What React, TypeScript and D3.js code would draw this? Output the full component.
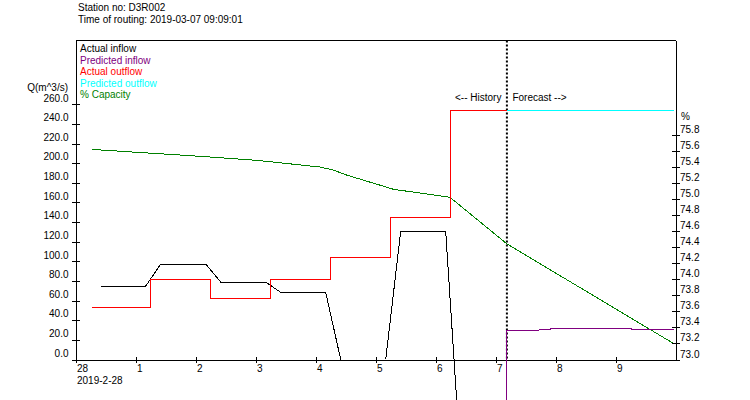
import React, { useEffect, useRef } from 'react';
import * as d3 from 'd3';

const stationNo = 'D3R002';
const routingTime = '2019-03-07 09:09:01';
const startDateLabel = '2019-2-28';

// time axis: days counted from 2019-02-28 00:00
const dayTicks = [0, 1, 2, 3, 4, 5, 6, 7, 8, 9];
const dayTickLabels = ['28', '1', '2', '3', '4', '5', '6', '7', '8', '9'];
const nowDay = 7.19;

const qTicks = [0, 20, 40, 60, 80, 100, 120, 140, 160, 180, 200, 220, 240, 260];
const pctTicks = [73.0, 73.2, 73.4, 73.6, 73.8, 74.0, 74.2, 74.4, 74.6, 74.8, 75.0, 75.2, 75.4, 75.6, 75.8];

// NaN = missing reading (gap in the line)
const inflowDays = [0.42, 1.17, 1.42, 2.17, 2.42, 3.17, 3.42, 4.17, 4.42, NaN, 5.17, 5.42, 6.17, 6.42];
const inflowQ = [74.8, 74.8, 97.2, 97.2, 78.9, 78.9, 68.4, 68.4, 0, NaN, 0, 130.6, 130.6, -105];

const outflowDays = [0.27, 1.25, 2.25, 3.25, 4.25, 5.25, 6.25, 7.19];
const outflowQ = [53, 81, 62, 81, 104, 145, 254, 254];

const predInflowDays = [7.19, 7.19, 7.72, 7.73, 7.91, 7.92, 9.27, 9.28, 9.98];
const predInflowQ = [-120, 29.5, 29.5, 30.2, 30.2, 31.2, 31.2, 30.2, 30.2];

const predOutflowDays = [7.19, 9.98];
const predOutflowQ = [254, 254];

const capacityDays = [0.28, 2.03, 3.03, 4.08, 4.3, 4.52, 5.07, 5.3, 6.24, 7.19, 9.95];
const capacityPct = [75.614, 75.531, 75.478, 75.395, 75.357, 75.295, 75.171, 75.118, 75.019, 74.439, 73.207];

const legendLabels = ['Actual inflow', 'Predicted inflow', 'Actual outflow', 'Predicted outflow', '% Capacity'];
const legendColors = ['#000000', '#800080', '#ff0000', '#00ffff', '#008000'];

const FONT = "'Liberation Sans Narrow', 'Liberation Sans', Arial, sans-serif";

const App: React.FC = () => {
  const svgRef = useRef<SVGSVGElement | null>(null);

  useEffect(() => {
    const w = 750;
    const h = 400;
    const left = 75.5;
    const right = 675.5;
    const top = 40.5;
    const bottom = 359.5;

    const svg = d3.select(svgRef.current)
      .attr('width', w)
      .attr('height', h)
      .style('font-family', FONT)
      .style('font-size', '10px');
    svg.selectAll('*').remove();

    const x = d3.scaleLinear().domain([0, 10]).range([left, right]);
    const yQ = d3.scaleLinear().domain([0, 325]).range([bottom, top]);
    const yP = d3.scaleLinear().domain([73, 76.97]).range([bottom, top]);

    // header
    svg.append('text').attr('x', 78).attr('y', 11).text(`Station no: ${stationNo}`);
    svg.append('text').attr('x', 78).attr('y', 23).text(`Time of routing: ${routingTime}`);

    // frame top
    svg.append('line')
      .attr('x1', left).attr('x2', right).attr('y1', top).attr('y2', top)
      .attr('stroke', '#000').attr('shape-rendering', 'crispEdges');

    // left axis
    const yAxisL = d3.axisLeft(yQ).tickValues(qTicks).tickSizeOuter(0).tickFormat(d3.format('.1f'));
    svg.append('g')
      .attr('transform', `translate(${left},0)`)
      .call(yAxisL)
      .call(g => g.attr('font-family', null).attr('font-size', null))
      .call(g => g.selectAll('path, line').attr('shape-rendering', 'crispEdges'))
      .call(g => g.selectAll('.tick line').attr('x1', 4).attr('x2', -4))
      .call(g => g.selectAll('.tick text').attr('x', -7).attr('dy', null).attr('y', -3.3));
    svg.append('text').attr('x', 68).attr('y', 91).attr('text-anchor', 'end').text('Q(m^3/s)');

    // right axis
    const yAxisR = d3.axisRight(yP).tickValues(pctTicks).tickSizeOuter(0).tickFormat(d3.format('.1f'));
    svg.append('g')
      .attr('transform', `translate(${right},0)`)
      .call(yAxisR)
      .call(g => g.attr('font-family', null).attr('font-size', null))
      .call(g => g.selectAll('path, line').attr('shape-rendering', 'crispEdges'))
      .call(g => g.selectAll('.tick line').attr('x1', -4).attr('x2', 4))
      .call(g => g.selectAll('.tick text').attr('x', 4.5).attr('dy', null).attr('y', -2.5));
    svg.append('text').attr('x', 681).attr('y', 120).text('%');

    // bottom axis
    const xAxis = d3.axisBottom(x).tickValues(dayTicks).tickSizeOuter(0)
      .tickFormat((d, i) => dayTickLabels[i]);
    svg.append('g')
      .attr('transform', `translate(0,${bottom})`)
      .call(xAxis)
      .call(g => g.attr('font-family', null).attr('font-size', null))
      .call(g => g.selectAll('path, line').attr('shape-rendering', 'crispEdges'))
      .call(g => g.selectAll('.tick line').attr('y1', -3).attr('y2', 3))
      .call(g => g.selectAll('.tick text').attr('text-anchor', 'start').attr('x', 1).attr('dy', null).attr('y', 12.5));
    svg.append('text').attr('x', 77).attr('y', 384).text(startDateLabel);

    // now line
    svg.append('line')
      .attr('x1', x(nowDay)).attr('x2', x(nowDay)).attr('y1', top).attr('y2', bottom)
      .attr('stroke', '#000').attr('stroke-width', 2).attr('stroke-dasharray', '2,2');
    svg.append('text').attr('x', x(nowDay) - 5.5).attr('y', 100.7).attr('text-anchor', 'end').text('<-- History');
    svg.append('text').attr('x', x(nowDay) + 5.5).attr('y', 100.7).text('Forecast -->');

    // legend
    legendLabels.forEach((label, i) => {
      svg.append('text')
        .attr('x', 80).attr('y', 52.3 + i * 11.5)
        .attr('fill', legendColors[i])
        .text(label);
    });

    const drawSeries = (days: number[], vals: number[], y: d3.ScaleLinear<number, number>, color: string, curve: d3.CurveFactory) => {
      const pts = days.map((d, i) => [d, vals[i]] as [number, number]);
      const line = d3.line<[number, number]>()
        .defined(p => !isNaN(p[0]) && !isNaN(p[1]))
        .x(p => x(p[0]))
        .y(p => y(p[1]))
        .curve(curve);
      svg.append('path')
        .datum(pts)
        .attr('fill', 'none')
        .attr('stroke', color)
        .attr('stroke-width', 1)
        .attr('shape-rendering', 'crispEdges')
        .attr('d', line);
    };

    drawSeries(capacityDays, capacityPct, yP, '#008000', d3.curveLinear);
    drawSeries(inflowDays, inflowQ, yQ, '#000000', d3.curveLinear);
    drawSeries(outflowDays, outflowQ, yQ, '#ff0000', d3.curveStepAfter);
    drawSeries(predOutflowDays, predOutflowQ, yQ, '#00ffff', d3.curveLinear);
    drawSeries(predInflowDays, predInflowQ, yQ, '#800080', d3.curveLinear);
  }, []);

  return (
    <svg
      ref={svgRef}
      style={{ position: 'absolute', left: 0, top: 0, display: 'block', background: '#fff' }}
    ></svg>
  );
};

export default App;
